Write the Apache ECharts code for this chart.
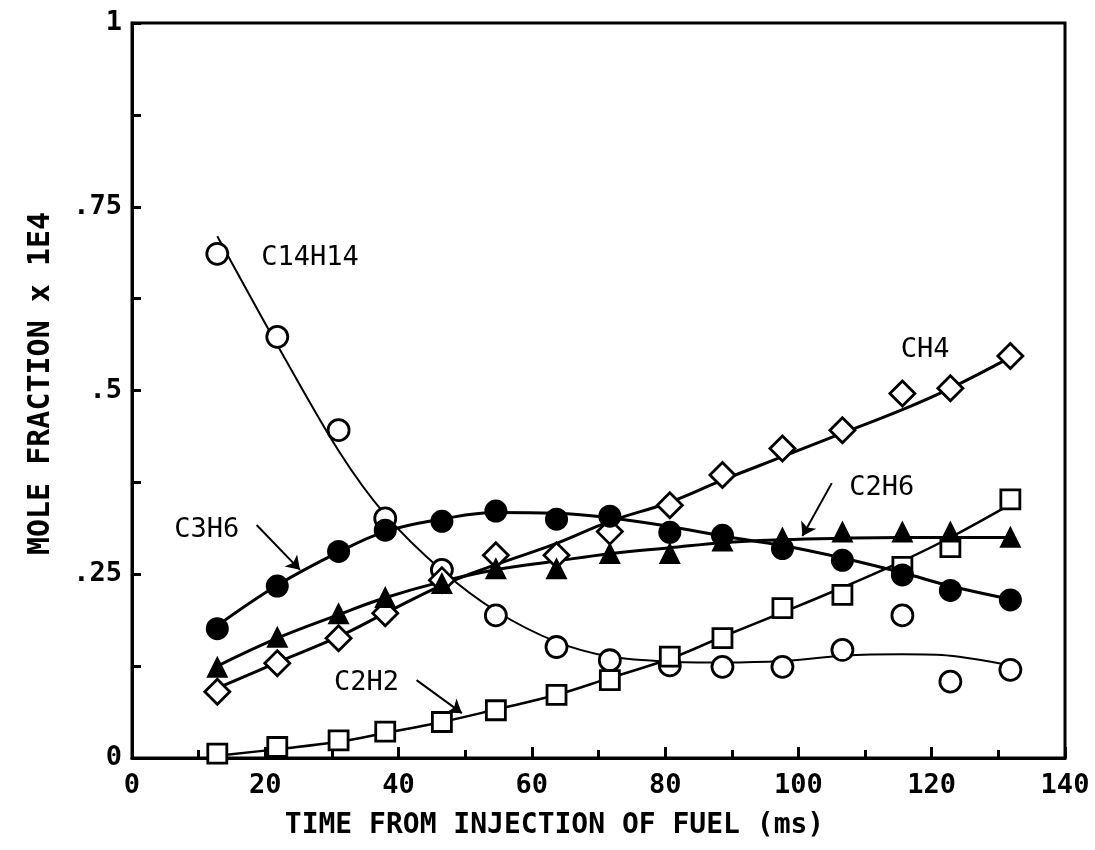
<!DOCTYPE html>
<html>
<head>
<meta charset="utf-8">
<script src="https://cdn.jsdelivr.net/npm/echarts@6/dist/echarts.min.js"></script>
<style>
html,body{margin:0;padding:0;background:#fff;}
#chart{width:1095px;height:850px;}
</style>
</head>
<body>
<div id="chart"></div>
<script>
// sample times (ms)
var time = [12.8, 21.8, 31, 38, 46.5, 54.6, 63.7, 71.7, 80.7, 88.6, 97.6, 106.6, 115.6, 122.8, 131.8];

// measured points
var c14h14Pts = [0.686, 0.573, 0.446, 0.326, 0.256, 0.194, 0.151, 0.133, 0.126, 0.124, 0.124, 0.147, 0.194, 0.104, 0.120];
var c3h6Pts   = [0.176, 0.234, 0.281, 0.310, 0.322, 0.336, 0.325, 0.329, 0.307, 0.303, 0.285, 0.269, 0.249, 0.228, 0.215];
var c2h6Pts   = [0.124, 0.165, 0.197, 0.219, 0.238, 0.258, 0.258, 0.279, 0.279, 0.296, 0.300, 0.308, 0.308, 0.308, 0.301];
var ch4Pts    = [0.090, 0.129, 0.163, 0.197, 0.242, 0.276, 0.276, 0.308, 0.344, 0.385, 0.421, 0.446, 0.496, 0.503, 0.547];
var c2h2Pts   = [0.006, 0.015, 0.024, 0.036, 0.049, 0.065, 0.086, 0.106, 0.138, 0.163, 0.204, 0.222, 0.260, 0.287, 0.352];

// fitted curves
var c14h14Fit = [0.710, 0.562, 0.418, 0.331, 0.255, 0.200, 0.158, 0.138, 0.131, 0.130, 0.132, 0.139, 0.141, 0.139, 0.126];
var c3h6Fit   = [0.180, 0.235, 0.280, 0.308, 0.325, 0.334, 0.333, 0.327, 0.315, 0.302, 0.289, 0.272, 0.252, 0.234, 0.216];
var c2h6Fit   = [0.125, 0.163, 0.195, 0.218, 0.240, 0.256, 0.268, 0.278, 0.286, 0.293, 0.297, 0.299, 0.300, 0.300, 0.300];
var ch4Fit    = [0.095, 0.130, 0.165, 0.197, 0.235, 0.263, 0.292, 0.322, 0.348, 0.378, 0.410, 0.442, 0.474, 0.503, 0.545];
var c2h2Fit   = [0.003, 0.012, 0.022, 0.034, 0.049, 0.066, 0.086, 0.109, 0.135, 0.165, 0.198, 0.232, 0.268, 0.300, 0.345];

var yTicks = ['0', '.25', '.5', '.75', '1'];

var labelNames = ['C14H14', 'CH4', 'C2H6', 'C3H6', 'C2H2'];
var labelPos = [[26.7, 0.680], [119.0, 0.555], [112.5, 0.367], [11.2, 0.310], [35.2, 0.102]];
var arrows = [
  [[105.0, 0.374], [100.6, 0.302]],
  [[18.7, 0.317], [25.2, 0.256]],
  [[42.7, 0.106], [49.5, 0.061]]
];

var FONT = 'DejaVu Sans Mono';

function pairs(ys) {
  return time.map(function (t, i) { return [t, ys[i]]; });
}

function curve(name, ys, w, sm) {
  return {
    name: name + ' fit', type: 'line', smooth: sm, showSymbol: false, silent: true,
    data: pairs(ys), lineStyle: {color: '#000', width: w, opacity: 1}, z: 2
  };
}

function points(name, ys, symbol, filled, size) {
  return {
    name: name, type: 'scatter', symbol: symbol, symbolSize: size, data: pairs(ys),
    itemStyle: filled ? {color: '#000', opacity: 1} : {color: '#fff', borderColor: '#000', borderWidth: 2.8, opacity: 1},
    z: 3
  };
}

var chart = echarts.init(document.getElementById('chart'));

chart.setOption({
  animation: false,
  backgroundColor: '#fff',
  grid: {left: 132, right: 30, top: 23, bottom: 92, show: true, borderColor: '#000', borderWidth: 3},
  xAxis: {
    type: 'value', min: 0, max: 140, interval: 20,
    name: 'TIME FROM INJECTION OF FUEL (ms)', nameLocation: 'middle', nameGap: 54,
    nameTextStyle: {fontFamily: FONT, fontWeight: 'bold', fontSize: 28, color: '#000', padding: [0, 88, 0, 0]},
    axisLine: {lineStyle: {color: '#000', width: 3}},
    axisTick: {inside: true, length: 11, lineStyle: {color: '#000', width: 3}},
    minorTick: {show: true, splitNumber: 2, length: 8, lineStyle: {color: '#000', width: 3}},
    splitLine: {show: false},
    axisLabel: {fontFamily: FONT, fontWeight: 'bold', fontSize: 27, color: '#000', margin: 14}
  },
  yAxis: {
    type: 'value', min: 0, max: 1, interval: 0.25,
    name: 'MOLE FRACTION x 1E4', nameLocation: 'middle', nameGap: 76,
    nameTextStyle: {fontFamily: FONT, fontWeight: 'bold', fontSize: 30, color: '#000', padding: [0, 0, 0, 14]},
    axisLine: {lineStyle: {color: '#000', width: 3}},
    axisTick: {inside: true, length: 9, lineStyle: {color: '#000', width: 3}},
    minorTick: {show: true, splitNumber: 2, length: 9, lineStyle: {color: '#000', width: 3}},
    splitLine: {show: false},
    axisLabel: {
      fontFamily: FONT, fontWeight: 'bold', fontSize: 27, color: '#000', margin: 10,
      formatter: function (v) { return yTicks[Math.round(v / 0.25)]; }
    }
  },
  series: [
    curve('C14H14', c14h14Fit, 2, 0.3),
    curve('C3H6', c3h6Fit, 3, 0.4),
    curve('C2H6', c2h6Fit, 3, 0.4),
    curve('CH4', ch4Fit, 3, 0.4),
    curve('C2H2', c2h2Fit, 2.5, 0.4),
    points('C14H14', c14h14Pts, 'circle', false, 21),
    points('C2H2', c2h2Pts, 'rect', false, 19),
    points('CH4', ch4Pts, 'diamond', false, 25),
    points('C2H6', c2h6Pts, 'triangle', true, 22),
    points('C3H6', c3h6Pts, 'circle', true, 23),
    {
      name: 'labels', type: 'scatter', symbolSize: 1, silent: true,
      itemStyle: {color: 'rgba(0,0,0,0)', opacity: 1},
      data: labelNames.map(function (n, i) { return {name: n, value: labelPos[i]}; }),
      label: {
        show: true, position: 'inside', formatter: '{b}',
        fontFamily: FONT, fontSize: 27, color: '#000', opacity: 1
      },
      markLine: {
        silent: true, symbol: ['none', 'arrow'], symbolSize: 13,
        label: {show: false},
        lineStyle: {color: '#000', width: 2, type: 'solid', opacity: 1},
        data: arrows.map(function (a) { return [{coord: a[0]}, {coord: a[1]}]; })
      }
    }
  ]
});
</script>
</body>
</html>
